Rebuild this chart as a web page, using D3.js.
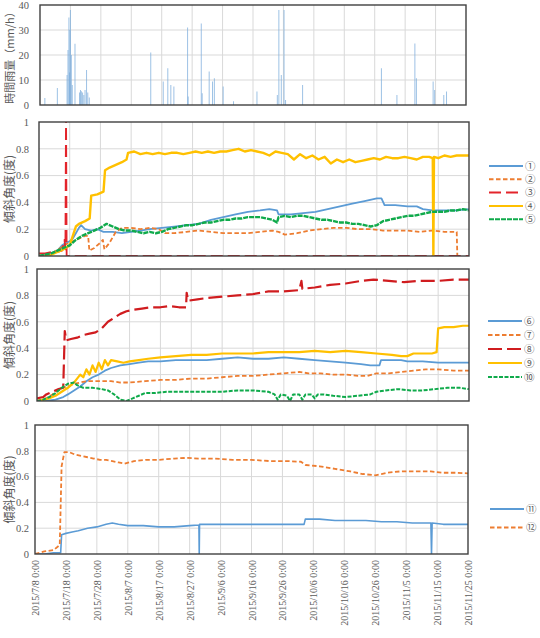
<!DOCTYPE html>
<html lang="ja">
<head>
<meta charset="UTF-8">
<title>傾斜角度と時間雨量</title>
<script src="https://cdnjs.cloudflare.com/ajax/libs/d3/7.8.5/d3.min.js"></script>
<style>
  body { margin: 0; background: #fff; }
  .tick text { font-family: "Liberation Serif", serif; fill: #595959; }
</style>
</head>
<body>
<div id="chart"></div>
<script>
// x axis: days since 2015/7/8 0:00
var xTicks = [0, 10, 20, 30, 40, 50, 60, 70, 80, 90, 100, 110, 120, 130, 140];
var xLabels = ["2015/7/8 0:00", "2015/7/18 0:00", "2015/7/28 0:00", "2015/8/7 0:00",
  "2015/8/17 0:00", "2015/8/27 0:00", "2015/9/6 0:00", "2015/9/16 0:00", "2015/9/26 0:00",
  "2015/10/6 0:00", "2015/10/16 0:00", "2015/10/26 0:00", "2015/11/5 0:00",
  "2015/11/15 0:00", "2015/11/25 0:00"];
var rainTicks = [0, 10, 20, 30, 40];
var angleTicks = [0, 0.2, 0.4, 0.6, 0.8, 1];

// hourly rainfall (mm/h): [day, value]
var rain = [[1.6,2.8],[5.7,6.8],[8.9,12],[9.2,22],[9.5,35],[9.7,13],[9.8,30],[10,38],[10.3,20],[10.6,8],
  [11.5,24.5],[13,5],[13.3,6],[13.6,5.5],[14,5],[14.4,4],[14.8,6],[15.3,14],[15.7,5],[16.2,3],
  [36.4,21],[40.5,9.4],[42,14.7],[43,8],[44,7.4],[48.5,31],[48.7,3.4],[53,32.6],[53.3,4.7],
  [55.6,13.4],[56.7,9.4],[57.3,10.7],[60.2,7.4],[63.6,1.5],[71.3,5.4],[78,4],[78.5,38],[79.3,12],
  [80.2,38],[80.7,2],[86.3,8],[112.2,14.7],[117.3,4],[123.2,24.6],[123.7,10.7],[129.2,9.4],
  [129.7,6],[132.7,4],[133.6,5.4]];

// tilt angle (deg): [day, value]
var s1 = [[0,0],[2,0.01],[4,0.02],[6,0.04],[7.5,0.08],[9,0.1],[10,0.11],[11,0.13],[12,0.17],[13,0.21],
  [13.7,0.23],[15,0.2],[17,0.19],[19,0.2],[21,0.18],[24,0.18],[27,0.17],[30,0.18],[33,0.19],[36,0.2],
  [40,0.21],[44,0.22],[48,0.23],[52,0.24],[56,0.27],[60,0.29],[64,0.31],[68,0.33],[72,0.34],[75,0.35],
  [77.5,0.34],[78,0.31],[82,0.31],[86,0.32],[90,0.33],[94,0.35],[98,0.37],[102,0.39],[106,0.41],
  [110,0.43],[111.5,0.43],[112.5,0.38],[116,0.38],[120,0.37],[123,0.37],[125,0.35],[128,0.34],
  [132,0.34],[136,0.34],[140,0.35]];
var s2 = [[0,0],[3,0.01],[5,0.03],[7,0.06],[9,0.09],[11,0.11],[13,0.13],[15,0.15],[16,0.15],[16.4,0.04],
  [18,0.06],[20,0.1],[20.8,0.12],[21.3,0.05],[23,0.1],[25,0.18],[27,0.21],[30,0.21],[33,0.2],[36,0.21],
  [39,0.2],[41,0.17],[44,0.17],[48,0.18],[52,0.19],[56,0.18],[60,0.17],[64,0.17],[68,0.17],[72,0.18],
  [76,0.19],[78,0.18],[80,0.16],[84,0.17],[88,0.19],[92,0.2],[96,0.21],[100,0.21],[104,0.2],[108,0.2],
  [112,0.19],[116,0.19],[120,0.19],[124,0.18],[128,0.19],[132,0.18],[136,0.18],[136.2,0]];
var s3 = [[0,0.02],[2,0.02],[4,0.03],[6,0.03],[7.5,0.04],[8.3,0.12],[8.6,0.05],[8.8,1.1],[9,0],[140,0]];
var s4 = [[0,0],[2,0],[4,0.01],[6,0.03],[8,0.05],[10,0.08],[11,0.15],[12,0.22],[13,0.24],[15,0.26],
  [16.5,0.28],[17,0.45],[19,0.46],[21,0.48],[21.5,0.64],[23,0.66],[25,0.68],[27,0.7],[28.5,0.72],
  [29,0.77],[31,0.78],[33,0.76],[35,0.77],[37,0.76],[39,0.77],[41,0.76],[43,0.77],[45,0.77],[47,0.76],
  [49,0.77],[51,0.78],[53,0.77],[55,0.78],[57,0.77],[59,0.78],[61,0.78],[63,0.79],[65,0.8],[67,0.78],
  [69,0.79],[71,0.78],[73,0.77],[75,0.75],[77,0.78],[79,0.77],[81,0.76],[83,0.72],[85,0.76],[87,0.73],
  [89,0.75],[91,0.72],[93,0.74],[95,0.69],[97,0.72],[99,0.7],[101,0.72],[103,0.7],[105,0.71],
  [107,0.72],[109,0.73],[111,0.72],[113,0.74],[115,0.73],[117,0.73],[119,0.74],[121,0.73],[123,0.72],
  [125,0.74],[127,0.74],[128.2,0.73],[128.4,0],[128.6,0.74],[130,0.73],[132,0.75],[134,0.74],
  [136,0.75],[138,0.75],[140,0.75]];
var s5 = [[0,0],[2,0.01],[4,0.02],[6,0.04],[8,0.06],[10,0.08],[12,0.12],[14,0.15],[16,0.17],[18,0.19],
  [20,0.21],[22,0.24],[24,0.22],[26,0.2],[28,0.19],[30,0.19],[32,0.18],[34,0.17],[36,0.18],[38,0.17],
  [40,0.18],[42,0.2],[44,0.21],[46,0.22],[48,0.23],[50,0.23],[52,0.24],[54,0.25],[56,0.25],[58,0.26],
  [60,0.27],[62,0.27],[64,0.28],[66,0.28],[68,0.29],[70,0.29],[72,0.29],[74,0.28],[76,0.27],
  [77.5,0.25],[78,0.29],[80,0.3],[82,0.29],[84,0.3],[86,0.3],[88,0.29],[90,0.28],[92,0.27],[94,0.27],
  [96,0.26],[98,0.25],[100,0.25],[102,0.24],[104,0.24],[106,0.23],[108,0.22],[110,0.23],[112,0.26],
  [114,0.27],[116,0.28],[118,0.29],[120,0.3],[122,0.3],[124,0.31],[126,0.32],[128,0.33],[130,0.33],
  [132,0.33],[134,0.34],[136,0.34],[138,0.35],[140,0.34]];

var s6 = [[0,0],[3,0],[6,0.01],[8.5,0.03],[10,0.05],[12,0.08],[14,0.11],[16,0.15],[18,0.18],[20,0.2],
  [22,0.23],[24,0.25],[27,0.27],[30,0.28],[33,0.29],[36,0.3],[40,0.3],[45,0.31],[50,0.31],[55,0.31],
  [60,0.32],[65,0.33],[70,0.32],[75,0.32],[80,0.33],[85,0.32],[90,0.31],[95,0.3],[100,0.29],
  [105,0.28],[108,0.27],[111,0.27],[111.5,0.31],[115,0.31],[118,0.31],[120,0.3],[125,0.3],[130,0.29],
  [135,0.29],[140,0.29]];
var s7 = [[0,0],[3,0.02],[5,0.05],[8,0.1],[10,0.11],[12,0.13],[14,0.14],[16,0.15],[20,0.15],[24,0.15],
  [27,0.14],[30,0.14],[35,0.15],[40,0.16],[45,0.16],[50,0.17],[55,0.17],[60,0.18],[65,0.19],[70,0.19],
  [75,0.2],[80,0.21],[85,0.22],[88,0.21],[92,0.21],[96,0.2],[100,0.2],[104,0.19],[107,0.19],
  [110,0.21],[114,0.21],[118,0.22],[122,0.23],[126,0.24],[130,0.24],[135,0.23],[140,0.23]];
var s8 = [[0,0.02],[2,0.03],[3,0.05],[5,0.07],[7,0.09],[8.5,0.1],[9,0.53],[9.5,0.46],[11,0.47],
  [13,0.48],[15,0.5],[17,0.51],[19,0.52],[21,0.55],[23,0.6],[25,0.63],[27,0.66],[29,0.68],[31,0.69],
  [34,0.7],[37,0.71],[40,0.71],[43,0.72],[46,0.71],[48.3,0.71],[48.5,0.82],[49,0.76],[52,0.77],
  [55,0.78],[60,0.79],[65,0.8],[70,0.81],[75,0.83],[80,0.83],[85,0.84],[85.7,0.91],[86,0.85],
  [90,0.86],[95,0.88],[100,0.89],[105,0.91],[109,0.92],[114,0.91],[119,0.9],[124,0.91],[130,0.91],
  [135,0.92],[140,0.92]];
var s9 = [[0,0],[2,0.01],[4,0.02],[6,0.04],[8,0.07],[10,0.1],[12,0.14],[13,0.17],[14,0.2],[15,0.18],
  [16,0.24],[17,0.2],[18,0.27],[19,0.22],[20,0.29],[21,0.24],[22,0.31],[23,0.27],[24,0.31],[26,0.3],
  [28,0.29],[30,0.3],[33,0.31],[36,0.32],[40,0.33],[45,0.34],[50,0.35],[55,0.35],[60,0.36],[65,0.36],
  [70,0.36],[75,0.37],[80,0.37],[85,0.37],[90,0.38],[95,0.37],[100,0.38],[105,0.37],[110,0.36],
  [115,0.35],[118,0.34],[120,0.34],[122,0.36],[125,0.36],[128,0.36],[129.5,0.37],[130,0.55],
  [132,0.56],[135,0.56],[138,0.57],[140,0.57]];
var s10 = [[0,0],[2,0.01],[4,0.03],[6,0.06],[8,0.1],[10,0.13],[12,0.14],[13,0.12],[15,0.1],[18,0.1],
  [21,0.09],[23,0.08],[25,0.05],[27,0.01],[29,0],[31,0.02],[33,0.04],[35,0.06],[38,0.06],[42,0.07],
  [46,0.07],[50,0.07],[55,0.07],[60,0.07],[65,0.08],[70,0.08],[75,0.07],[77,0.05],[78,0.01],[79,0.05],
  [81,0.04],[82,0],[83,0.05],[85,0.05],[86,0.01],[87,0.05],[89,0.05],[90,0.02],[91,0.05],[93,0.05],
  [96,0.04],[100,0.03],[104,0.04],[108,0.05],[110,0.07],[113,0.08],[117,0.09],[121,0.08],[125,0.08],
  [129,0.09],[133,0.1],[137,0.1],[140,0.09]];

var s11 = [[0,0],[3,0],[6,0.01],[8.3,0.01],[8.6,0.15],[10,0.16],[12,0.17],[14,0.18],[17,0.2],[20,0.21],
  [23,0.23],[25,0.24],[27,0.23],[30,0.22],[35,0.22],[40,0.21],[45,0.21],[50,0.22],[53,0.225],
  [53.1,0],[53.2,0.23],[60,0.23],[70,0.23],[80,0.23],[87,0.23],[87.4,0.27],[92,0.27],[97,0.26],
  [102,0.26],[107,0.26],[112,0.25],[117,0.25],[122,0.24],[128,0.24],[128.2,0],[128.4,0.24],
  [132,0.23],[136,0.23],[140,0.23]];
var s12 = [[0,0],[3,0.02],[6,0.03],[8,0.07],[8.6,0.68],[9.5,0.79],[11,0.79],[13,0.77],[15,0.76],
  [17,0.75],[19,0.74],[21,0.73],[23,0.73],[25,0.72],[27,0.71],[29,0.7],[32,0.72],[36,0.73],[40,0.73],
  [45,0.74],[49,0.745],[53,0.74],[58,0.74],[64,0.73],[70,0.73],[76,0.72],[82,0.72],[86,0.715],
  [87.5,0.69],[92,0.68],[97,0.66],[102,0.64],[106,0.62],[110,0.61],[112,0.62],[114,0.63],[118,0.64],
  [124,0.64],[128,0.64],[132,0.63],[136,0.63],[140,0.625]];

var svg = d3.select("#chart").append("svg")
  .attr("width", 540)
  .attr("height", 638);

var blue = "#5B9BD5", orange = "#ED7D31", red = "#E3242B", darkred = "#D01C1F",
    yellow = "#FFC000", green = "#0FAA4B";

var panels = [
  { l: 40, r: 466, t: 5, b: 105, max: 40, ticks: rainTicks, label: "時間雨量（mm/h）", labelSize: 11 },
  { l: 39, r: 469, t: 122, b: 256, max: 1, ticks: angleTicks, label: "傾斜角度(度)", labelSize: 12,
    legendY: 166, legendStep: 13.3, legendX: 489,
    series: [
      { name: "①", data: s1, color: blue, w: 1.8, dash: null },
      { name: "②", data: s2, color: orange, w: 1.8, dash: "4.5,2.5" },
      { name: "③", data: s3, color: red, w: 1.8, dash: "12,5" },
      { name: "④", data: s4, color: yellow, w: 2.4, dash: null },
      { name: "⑤", data: s5, color: green, w: 2.4, dash: "5,1" }
    ] },
  { l: 37, r: 469, t: 269, b: 401, max: 1, ticks: angleTicks, label: "傾斜角度(度)", labelSize: 12,
    legendY: 321, legendStep: 14, legendX: 488,
    series: [
      { name: "⑥", data: s6, color: blue, w: 1.8, dash: null },
      { name: "⑦", data: s7, color: orange, w: 1.8, dash: "4.5,2.5" },
      { name: "⑧", data: s8, color: darkred, w: 2.2, dash: "14,5" },
      { name: "⑨", data: s9, color: yellow, w: 2.2, dash: null },
      { name: "⑩", data: s10, color: green, w: 2, dash: "4,1.5" }
    ] },
  { l: 35, r: 468, t: 425, b: 554, max: 1, ticks: angleTicks, label: "傾斜角度(度)", labelSize: 12,
    legendY: 509, legendStep: 18.5, legendX: 490,
    series: [
      { name: "⑪", data: s11, color: blue, w: 1.6, dash: null },
      { name: "⑫", data: s12, color: orange, w: 1.8, dash: "4.5,2.5" }
    ] }
];

var fontCJK = "'Noto Sans CJK JP', 'Noto Sans', sans-serif";

panels.forEach(function(p, i) {
  var x = d3.scaleLinear().domain([0, 140]).range([p.l, p.r]);
  var y = d3.scaleLinear().domain([0, p.max]).range([p.b, p.t]);
  var g = svg.append("g");

  // grid
  g.append("g").selectAll("line").data(xTicks.slice(1, -1)).enter().append("line")
    .attr("x1", function(d) { return x(d); }).attr("x2", function(d) { return x(d); })
    .attr("y1", p.t).attr("y2", p.b)
    .attr("stroke", "#D9D9D9").attr("stroke-width", 1);
  g.append("g").selectAll("line").data(p.ticks.slice(1, -1)).enter().append("line")
    .attr("x1", p.l).attr("x2", p.r)
    .attr("y1", function(d) { return y(d); }).attr("y2", function(d) { return y(d); })
    .attr("stroke", "#D9D9D9").attr("stroke-width", 1);

  var clipId = "clip" + i;
  svg.append("clipPath").attr("id", clipId).append("rect")
    .attr("x", p.l).attr("y", p.t).attr("width", p.r - p.l).attr("height", p.b - p.t);
  var plot = g.append("g").attr("clip-path", "url(#" + clipId + ")");

  if (i === 0) {
    plot.selectAll("line.rain").data(rain).enter().append("line")
      .attr("class", "rain")
      .attr("x1", function(d) { return x(d[0]); }).attr("x2", function(d) { return x(d[0]); })
      .attr("y1", y(0)).attr("y2", function(d) { return y(d[1]); })
      .attr("stroke", "#7DAEDD").attr("stroke-width", 1).attr("opacity", 0.75);
  } else {
    var line = d3.line()
      .x(function(d) { return x(d[0]); })
      .y(function(d) { return y(d[1]); });
    p.series.forEach(function(s) {
      plot.append("path")
        .datum(s.data)
        .attr("d", line)
        .attr("fill", "none")
        .attr("stroke", s.color)
        .attr("stroke-width", s.w)
        .attr("stroke-linejoin", "round")
        .attr("stroke-dasharray", s.dash);
    });

    // legend
    var lg = svg.append("g");
    p.series.forEach(function(s, k) {
      var ly = p.legendY + k * p.legendStep;
      lg.append("line")
        .attr("x1", p.legendX).attr("x2", p.legendX + 34)
        .attr("y1", ly).attr("y2", ly)
        .attr("stroke", s.color).attr("stroke-width", 2)
        .attr("stroke-dasharray", s.dash);
      lg.append("text")
        .attr("x", p.legendX + 36).attr("y", ly)
        .attr("dy", "0.36em")
        .attr("font-family", fontCJK)
        .attr("font-size", 10.5)
        .attr("fill", "#595959")
        .text(s.name);
    });
  }

  // frame
  g.append("rect")
    .attr("x", p.l).attr("y", p.t).attr("width", p.r - p.l).attr("height", p.b - p.t)
    .attr("fill", "none").attr("stroke", "#404040").attr("stroke-width", 1.4);

  // y axis labels
  var ya = g.append("g").attr("transform", "translate(" + p.l + ",0)")
    .call(d3.axisLeft(y).tickValues(p.ticks).tickSize(0).tickPadding(p.l - 29)
      .tickFormat(function(d) { return String(d); }));
  ya.select(".domain").remove();
  ya.selectAll("text").attr("font-size", 10.5);

  g.append("text")
    .attr("transform", "translate(10," + ((p.t + p.b) / 2) + ") rotate(-90)")
    .attr("text-anchor", "middle")
    .attr("dy", "0.35em")
    .attr("font-family", fontCJK)
    .attr("font-size", p.labelSize)
    .attr("fill", "#595959")
    .text(p.label);

  if (i === panels.length - 1) {
    var xa = g.append("g").attr("transform", "translate(0," + p.b + ")")
      .call(d3.axisBottom(x).tickValues(xTicks).tickSize(0)
        .tickFormat(function(d, k) { return xLabels[k]; }));
    xa.select(".domain").remove();
    xa.selectAll("text")
      .attr("font-size", 10)
      .attr("transform", "rotate(-90)")
      .attr("x", -6).attr("y", 0)
      .attr("dy", "0.35em")
      .style("text-anchor", "end");
  }
});
</script>
</body>
</html>
